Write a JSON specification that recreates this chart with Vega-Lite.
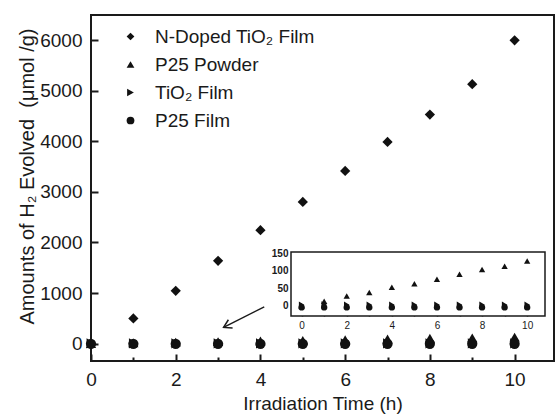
{
  "$schema": "https://vega.github.io/schema/vega-lite/v6.json",
  "width": 463,
  "height": 346,
  "autosize": {"type": "none"},
  "padding": {"left": 91, "top": 15, "right": 1, "bottom": 55},
  "background": "white",
  "config": {
    "view": {"stroke": "#1a1a1a", "strokeWidth": 2},
    "font": "Liberation Sans",
    "axis": {"labelColor": "#1a1a1a", "titleColor": "#1a1a1a", "tickColor": "#1a1a1a", "domainColor": "#1a1a1a", "grid": false, "titleFontWeight": "normal", "labelFlush": false}
  },
  "datasets": {
    "main": [
      {"series": "N-Doped TiO₂ Film", "t": 1, "v": 498},
      {"series": "N-Doped TiO₂ Film", "t": 2, "v": 1044},
      {"series": "N-Doped TiO₂ Film", "t": 3, "v": 1637},
      {"series": "N-Doped TiO₂ Film", "t": 4, "v": 2244},
      {"series": "N-Doped TiO₂ Film", "t": 5, "v": 2803},
      {"series": "N-Doped TiO₂ Film", "t": 6, "v": 3416},
      {"series": "N-Doped TiO₂ Film", "t": 7, "v": 3990},
      {"series": "N-Doped TiO₂ Film", "t": 8, "v": 4531},
      {"series": "N-Doped TiO₂ Film", "t": 9, "v": 5131},
      {"series": "N-Doped TiO₂ Film", "t": 10, "v": 6000},
      {"series": "P25 Powder", "t": 0, "v": 0},
      {"series": "P25 Powder", "t": 1, "v": 13},
      {"series": "P25 Powder", "t": 2, "v": 28},
      {"series": "P25 Powder", "t": 3, "v": 38},
      {"series": "P25 Powder", "t": 4, "v": 53},
      {"series": "P25 Powder", "t": 5, "v": 63},
      {"series": "P25 Powder", "t": 6, "v": 76},
      {"series": "P25 Powder", "t": 7, "v": 90},
      {"series": "P25 Powder", "t": 8, "v": 104},
      {"series": "P25 Powder", "t": 9, "v": 113},
      {"series": "P25 Powder", "t": 10, "v": 128},
      {"series": "TiO₂ Film", "t": 0, "v": 3},
      {"series": "TiO₂ Film", "t": 1, "v": 4},
      {"series": "TiO₂ Film", "t": 2, "v": 3},
      {"series": "TiO₂ Film", "t": 3, "v": 3},
      {"series": "TiO₂ Film", "t": 4, "v": 3},
      {"series": "TiO₂ Film", "t": 5, "v": 3},
      {"series": "TiO₂ Film", "t": 6, "v": 3},
      {"series": "TiO₂ Film", "t": 7, "v": 3},
      {"series": "TiO₂ Film", "t": 8, "v": 3},
      {"series": "TiO₂ Film", "t": 9, "v": 3},
      {"series": "TiO₂ Film", "t": 10, "v": 3},
      {"series": "P25 Film", "t": 0, "v": -5},
      {"series": "P25 Film", "t": 1, "v": -5},
      {"series": "P25 Film", "t": 2, "v": -5},
      {"series": "P25 Film", "t": 3, "v": -5},
      {"series": "P25 Film", "t": 4, "v": -5},
      {"series": "P25 Film", "t": 5, "v": -5},
      {"series": "P25 Film", "t": 6, "v": -5},
      {"series": "P25 Film", "t": 7, "v": -5},
      {"series": "P25 Film", "t": 8, "v": -5},
      {"series": "P25 Film", "t": 9, "v": -5},
      {"series": "P25 Film", "t": 10, "v": -5}
    ],
    "arrow": [
      {"t": 4.09, "v": 727, "tEnd": 3.13, "vEnd": 320}
    ]
  },
  "layer": [
    {
      "layer": [
        {
          "data": {"name": "main"},
          "mark": {"type": "point", "filled": true, "opacity": 1, "color": "#111", "size": 105},
          "encoding": {
            "x": {
              "field": "t", "type": "quantitative",
              "scale": {"domain": [0, 10.93], "nice": false, "zero": false},
              "axis": {
                "title": "Irradiation Time (h)",
                "values": [0, 1, 2, 3, 4, 5, 6, 7, 8, 9, 10],
                "labelExpr": "datum.value % 2 === 0 ? datum.label : ''",
                "domain": false,
                "tickWidth": 2,
                "tickSize": {"condition": {"test": "datum.value % 2 === 0", "value": -7}, "value": -4},
                "labelFontSize": 19,
                "labelPadding": 16,
                "titleFontSize": 19,
                "titleY": 48,
                "titleBaseline": "alphabetic"
              }
            },
            "y": {
              "field": "v", "type": "quantitative",
              "scale": {"domain": [-345, 6500], "nice": false, "zero": false},
              "axis": {
                "title": "Amounts of H₂ Evolved\u00a0\u00a0(μmol /g)",
                "values": [0, 500, 1000, 1500, 2000, 2500, 3000, 3500, 4000, 4500, 5000, 5500, 6000],
                "labelExpr": "datum.value % 1000 === 0 ? datum.label : ''",
                "format": "d",
                "domain": false,
                "tickWidth": 2,
                "tickSize": {"condition": {"test": "datum.value % 1000 === 0", "value": -7}, "value": -4},
                "labelFontSize": 19,
                "labelPadding": 16,
                "titleFontSize": 20,
                "titleX": -58,
                "titleY": 161,
                "titleAlign": "center",
                "titleBaseline": "alphabetic"
              }
            },
            "shape": {
              "field": "series", "type": "nominal",
              "scale": {
                "domain": ["N-Doped TiO₂ Film", "P25 Powder", "TiO₂ Film", "P25 Film"],
                "range": ["diamond", "triangle-up", "triangle-right", "circle"]
              },
              "legend": {
                "orient": "none",
                "legendX": 30,
                "legendY": 12,
                "title": null,
                "labelFontSize": 19,
                "labelColor": "#1a1a1a",
                "symbolSize": 60,
                "symbolFillColor": "#111",
                "symbolStrokeColor": "#111",
                "rowPadding": 8,
                "labelOffset": 15,
                "padding": 0
              }
            }
          }
        },
        {
          "data": {"name": "arrow"},
          "mark": {"type": "rule", "color": "#1a1a1a", "strokeWidth": 1.5},
          "encoding": {
            "x": {"field": "t", "type": "quantitative"},
            "y": {"field": "v", "type": "quantitative"},
            "x2": {"field": "tEnd"},
            "y2": {"field": "vEnd"}
          }
        },
        {
          "data": {"name": "arrow"},
          "mark": {"type": "point", "shape": "M1,-0.6L0,0L1,0.6", "filled": false, "stroke": "#1a1a1a", "strokeWidth": 1.5, "size": 240, "angle": -27, "opacity": 1},
          "encoding": {
            "x": {"field": "tEnd", "type": "quantitative"},
            "y": {"field": "vEnd", "type": "quantitative"}
          }
        }
      ]
    },
    {
      "layer": [
        {
          "data": {"values": [{}]},
          "mark": {"type": "rect", "fill": "white", "stroke": "#1a1a1a", "strokeWidth": 1.5},
          "encoding": {
            "x": {"datum": -0.47, "type": "quantitative"},
            "x2": {"datum": 10.79},
            "y": {"datum": -29.5, "type": "quantitative"},
            "y2": {"datum": 154}
          }
        },
        {
          "data": {"name": "main"},
          "transform": [{"filter": {"field": "series", "oneOf": ["P25 Powder", "TiO₂ Film", "P25 Film"]}}],
          "mark": {"type": "point", "filled": true, "opacity": 1, "color": "#111", "size": 40},
          "encoding": {
            "x": {
              "field": "t", "type": "quantitative",
              "scale": {"domain": [-0.47, 10.79], "range": [200, 454], "nice": false, "zero": false},
              "axis": {
                "orient": "bottom",
                "offset": -45,
                "title": null,
                "values": [0, 1, 2, 3, 4, 5, 6, 7, 8, 9, 10],
                "labelExpr": "datum.value % 2 === 0 ? datum.label : ''",
                "domain": false,
                "tickWidth": 1.5,
                "tickSize": {"condition": {"test": "datum.value % 2 === 0", "value": -4}, "value": -3},
                "labelFontSize": 10,
                "labelPadding": 8
              }
            },
            "y": {
              "field": "v", "type": "quantitative",
              "scale": {"domain": [-29.5, 154], "range": [301, 237], "nice": false, "zero": false},
              "axis": {
                "orient": "left",
                "offset": -200,
                "title": null,
                "values": [0, 50, 100, 150],
                "domain": false,
                "tickWidth": 1.5,
                "tickSize": -4,
                "labelFontSize": 10,
                "labelFontWeight": "bold",
                "labelPadding": 7
              }
            },
            "shape": {"field": "series", "type": "nominal"}
          }
        }
      ]
    }
  ],
  "resolve": {"scale": {"x": "independent", "y": "independent"}}
}
